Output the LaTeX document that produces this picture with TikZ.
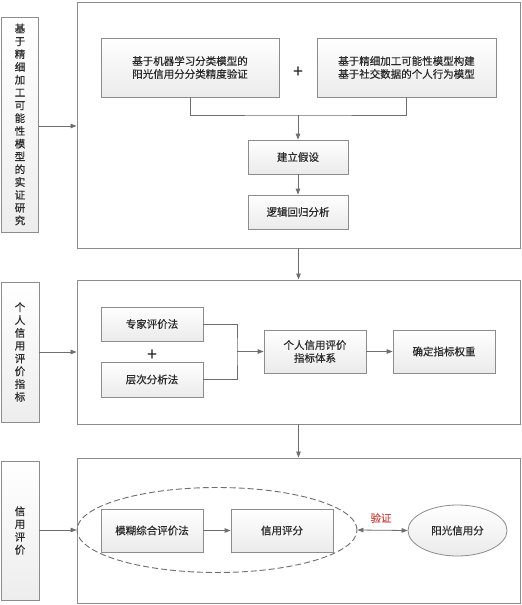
\documentclass[tikz,border=0pt]{standalone}
\usepackage{fontspec}
\setmainfont{Noto Sans CJK SC}[FakeBold=0.6]
\usetikzlibrary{arrows.meta,shapes.geometric}
\definecolor{linec}{HTML}{6E6E6E}
\definecolor{boxc}{HTML}{8C8C8C}
\definecolor{txtc}{HTML}{2A2A2A}
\definecolor{redc}{HTML}{C8504A}
\tikzset{
  panel/.style={draw=boxc, line width=0.9pt, fill=white, rectangle, inner sep=0pt},
  sidebox/.style={draw=boxc, line width=0.9pt, top color=white, bottom color=gray!14, rectangle, inner sep=0pt, align=center, text=txtc, font=\fontsize{10.5}{12.8}\selectfont},
  stepbox/.style={draw=boxc, line width=0.8pt, top color=white, bottom color=gray!16, rectangle, inner sep=0pt, align=center, text=txtc, font=\fontsize{10.5}{13}\selectfont},
  conn/.style={draw=linec, line width=0.8pt},
  arr/.style={conn, -{Triangle[length=6pt,width=4.5pt]}},
  plus/.style={font=\fontsize{17}{17}\selectfont, text=txtc, inner sep=0pt}
}
\begin{document}
\begin{tikzpicture}[x=1pt,y=-1pt]
\useasboundingbox (0,0) rectangle (522,605);
% panels
\node[panel, minimum width=443pt, minimum height=246pt] (p1) at (298.5,125) {};
\node[panel, minimum width=443pt, minimum height=144pt] (p2) at (298.5,352) {};
\node[panel, minimum width=443pt, minimum height=145pt] (p3) at (298.5,530.5) {};
% side boxes
\node[sidebox, minimum width=37pt, minimum height=215pt] (lb1) at (20,124.5) {基\\于\\精\\细\\加\\工\\可\\能\\性\\模\\型\\的\\实\\证\\研\\究};
\node[sidebox, minimum width=38pt, minimum height=140pt] (lb2) at (20,352) {个\\人\\信\\用\\评\\价\\指\\标};
\node[sidebox, minimum width=38pt, minimum height=139pt] (lb3) at (20,530.5) {信\\用\\评\\价};
% panel 1
\node[stepbox, minimum width=178pt, minimum height=59pt] (A) at (190,67.5) {基于机器学习分类模型的\\阳光信用分分类精度验证};
\node[stepbox, minimum width=179pt, minimum height=59pt] (B) at (406.5,67.5) {基于精细加工可能性模型构建\\基于社交数据的个人行为模型};
\node[plus] (pl1) at (298,72) {+};
\node[stepbox, minimum width=100pt, minimum height=34pt] (C) at (298,157) {建立假设};
\node[stepbox, minimum width=100pt, minimum height=34pt] (D) at (298,212) {逻辑回归分析};
\coordinate (j1) at (298,115);
\draw[conn] (A.south) |- (j1) -| (B.south);
\draw[arr] (j1) -- (C.north);
\draw[arr] (C.south) -- (D.north);
% panel 2
\node[stepbox, minimum width=102pt, minimum height=34pt] (E1) at (152,324) {专家评价法};
\node[stepbox, minimum width=102pt, minimum height=35pt] (E2) at (152,379.5) {层次分析法};
\node[plus] (pl2) at (152,355) {+};
\node[stepbox, minimum width=102pt, minimum height=43pt] (F1) at (315,351.5) {个人信用评价\\指标体系};
\node[stepbox, minimum width=102pt, minimum height=43pt] (F2) at (444,351.5) {确定指标权重};
\coordinate (j2) at (237,351.5);
\draw[conn] (E1.east) -| (j2) |- (E2.east);
\draw[arr] (j2) -- (F1.west);
\draw[arr] (F1.east) -- (F2.west);
% panel 3
\node[ellipse, draw=linec, line width=0.9pt, dash pattern=on 6pt off 3pt, minimum width=280pt, minimum height=85pt, inner sep=0pt] (dz) at (217,530) {};
\node[stepbox, minimum width=102pt, minimum height=43pt] (G1) at (152,530.5) {模糊综合评价法};
\node[stepbox, minimum width=102pt, minimum height=43pt] (G2) at (282,530.5) {信用评分};
\node[ellipse, draw=boxc, line width=0.8pt, top color=white, bottom color=gray!16, minimum width=99pt, minimum height=51pt, inner sep=0pt, text=txtc, font=\fontsize{10.5}{13}\selectfont] (H) at (457.5,530.5) {阳光信用分};
\draw[arr] (G1.east) -- (G2.west);
\draw[conn, {Triangle[length=6pt,width=4.5pt]}-{Triangle[length=6pt,width=4.5pt]}] (dz.east) -- (H.west);
\node[text=redc, font=\fontsize{10.5}{13}\selectfont, inner sep=0pt] (lbl) at (381,518) {验证};
% inter-panel arrows
\draw[arr] (lb1.east |- 0,126) -- (p1.west |- 0,126);
\draw[arr] (lb2.east) -- (p2.west);
\draw[arr] (lb3.east |- dz.west) -- (dz.west);
\draw[arr] (p1.south) -- (p2.north);
\draw[arr] (p2.south) -- (p3.north);
\end{tikzpicture}
\end{document}
